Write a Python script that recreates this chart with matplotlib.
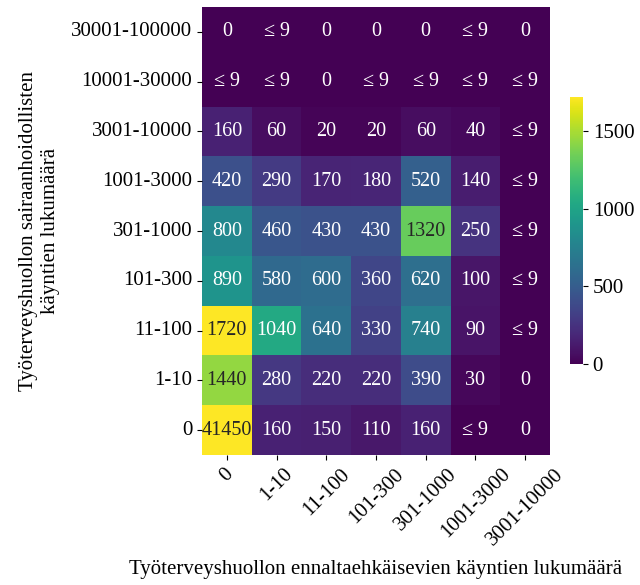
import numpy as np
import matplotlib
matplotlib.use("Agg")
import matplotlib.pyplot as plt
import seaborn as sns

plt.rcParams['font.family'] = ['Liberation Serif', 'DejaVu Serif']

row_labels = ["30001-100000", "10001-30000", "3001-10000", "1001-3000", "301-1000",
              "101-300", "11-100", "1-10", "0"]
col_labels = ["0", "1-10", "11-100", "101-300", "301-1000", "1001-3000", "3001-10000"]

# None marks suppressed "≤9" cells
LE9 = None
row_30001 = [0, LE9, 0, 0, 0, LE9, 0]
row_10001 = [LE9, LE9, 0, LE9, LE9, LE9, LE9]
row_3001 = [160, 60, 20, 20, 60, 40, LE9]
row_1001 = [420, 290, 170, 180, 520, 140, LE9]
row_301 = [800, 460, 430, 430, 1320, 250, LE9]
row_101 = [890, 580, 600, 360, 620, 100, LE9]
row_11 = [1720, 1040, 640, 330, 740, 90, LE9]
row_1 = [1440, 280, 220, 220, 390, 30, 0]
row_0 = [41450, 160, 150, 110, 160, LE9, 0]

rows = [row_30001, row_10001, row_3001, row_1001, row_301, row_101, row_11, row_1, row_0]
suppressed_value = 5  # colour value used for "≤9" cells

values = np.array([[suppressed_value if v is None else v for v in r] for r in rows], dtype=float)
labels = np.array([["≤ 9" if v is None else str(v) for v in r] for r in rows])

fig = plt.figure(figsize=(6.4, 5.85), dpi=100)
ax = fig.add_axes([202/640, 130/585, 348/640, 448/585])
cax = fig.add_axes([570/640, 221/585, 13/640, 267/585])

sns.heatmap(values, ax=ax, cbar_ax=cax, cmap="viridis", vmin=0, vmax=1720,
            annot=labels, fmt="", annot_kws={"fontsize": 14.5},
            xticklabels=col_labels, yticklabels=row_labels)

ax.set_xticklabels(col_labels, rotation=45, fontsize=15)
ax.set_yticklabels(row_labels, rotation=0, fontsize=15)
ax.set_xlabel("Työterveyshuollon ennaltaehkäisevien käyntien lukumäärä", fontsize=15, labelpad=8)
ax.set_ylabel("Työterveyshuollon sairaanhoidollisten\nkäyntien lukumäärä", fontsize=15, labelpad=8)
cax.tick_params(labelsize=15)
cax.set_yticks([0, 500, 1000, 1500])

fig.savefig("out.png", dpi=100)
